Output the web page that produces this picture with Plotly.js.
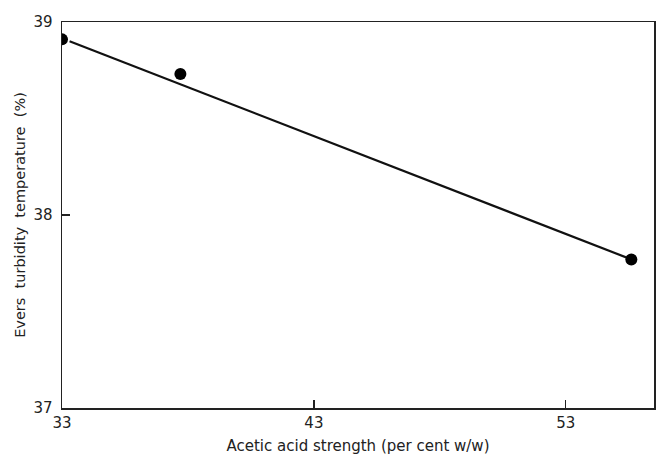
<!DOCTYPE html>
<html>
<head>
<meta charset="utf-8">
<script src="https://cdn.plot.ly/plotly-3.0.1.min.js"></script>
<style>html,body{margin:0;padding:0;background:#fff;}</style>
</head>
<body>
<div id="chart" style="width:657px;height:466px;"></div>
<script>
// Measured points
const acidStrength = [33, 37.7, 55.6];
const turbidityTemp = [38.91, 38.73, 37.77];
// Fitted straight line (endpoints)
const fitX = [33.3, 55.6];
const fitY = [38.9, 37.77];
// Tick values
const xTicks = [33, 43, 53];
const yTicks = [37, 38, 39];

const font = {family: "DejaVu Sans, sans-serif", color: "#222"};

const traces = [
  {x: fitX, y: fitY, mode: "lines", line: {color: "#111", width: 2.2}, hoverinfo: "skip", showlegend: false},
  {x: acidStrength, y: turbidityTemp, mode: "markers", marker: {color: "#000", size: 12}, showlegend: false}
];

const layout = {
  width: 657, height: 466,
  margin: {l: 62, r: 3, t: 22, b: 58},
  paper_bgcolor: "#fff", plot_bgcolor: "#fff",
  showlegend: false,
  font: font,
  xaxis: {
    range: [33, 56.5], tickvals: xTicks, ticktext: xTicks.map(String),
    ticks: "inside", ticklen: 8, tickwidth: 1.2, tickcolor: "#222",
    showline: true, linecolor: "#222", linewidth: 1.5, mirror: true,
    showgrid: false, zeroline: false,
    tickfont: {family: font.family, size: 15, color: "#222"},
    title: {text: "Acetic acid strength (per cent w/w)", font: {family: font.family, size: 15, color: "#222"}, standoff: 10}
  },
  yaxis: {
    range: [37, 39], tickvals: yTicks, ticktext: yTicks.map(String),
    ticks: "inside", ticklen: 8, tickwidth: 1.2, tickcolor: "#222",
    showline: true, linecolor: "#222", linewidth: 1.5, mirror: true,
    showgrid: false, zeroline: false, ticklabelstandoff: 5,
    tickfont: {family: font.family, size: 15, color: "#222"},
    title: {text: "Evers  turbidity  temperature  (%)", font: {family: font.family, size: 14.5, color: "#222"}, standoff: 4}
  }
};

Plotly.newPlot("chart", traces, layout, {displayModeBar: false, staticPlot: true});
</script>
</body>
</html>
